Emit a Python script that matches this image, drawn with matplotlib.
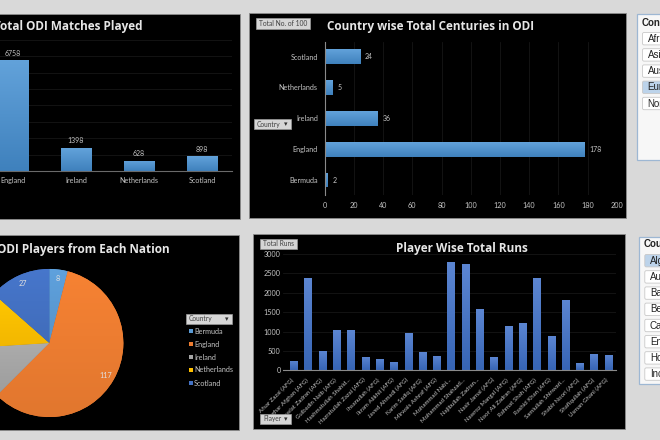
import matplotlib
matplotlib.use("Agg")
import matplotlib.pyplot as plt
from matplotlib.patches import Rectangle, FancyBboxPatch
from matplotlib.transforms import ScaledTranslation
import numpy as np

W, H = 660, 440

# top left
match_countries = ["England", "Ireland", "Netherlands", "Scotland"]
match_totals = [6758, 1398, 628, 898]
match_ticks = list(range(0, 9000, 1000))

# top right
century_countries = ["Bermuda", "England", "Ireland", "Netherlands", "Scotland"]
century_totals = [2, 178, 36, 5, 24]
century_ticks = list(range(0, 220, 20))

# bottom left
pie_countries = ["Bermuda", "England", "Ireland", "Netherlands", "Scotland"]
pie_players = [8, 117, 23, 25, 27]
pie_colors = ["#5B9BD5", "#ED7D31", "#A5A5A5", "#FFC000", "#4472C4"]

# bottom right
players = ["Afsar Zazai (AFG)", "Asghar Afghan (AFG)", "Dawlat Zadran (AFG)", "Gulbadin Naib (AFG)",
           "Hashmatullah Shahid...", "Hazratullah Zazai (AFG)", "Ihsanullah (AFG)", "Ikram Alikhil (AFG)",
           "Javed Ahmadi (AFG)", "Karim Sadiq (AFG)", "Mirwais Ashraf (AFG)", "Mohammad Nabi...",
           "Mohammad Shahzad...", "Najibullah Zadran...", "Nasir Jamal (AFG)", "Nawroz Mangal (AFG)",
           "Noor Ali Zadran (AFG)", "Rahmat Shah (AFG)", "Rashid Khan (AFG)", "Samiullah Shinwari...",
           "Shabir Noori (AFG)", "Shafiqullah (AFG)", "Usman Ghani (AFG)"]
player_runs = [240, 2370, 510, 1030, 1050, 350, 290, 225, 965, 465, 370, 2800,
               2740, 1590, 335, 1135, 1220, 2370, 895, 1815, 180, 420, 395]
run_ticks = list(range(0, 3500, 500))

# slicers
continents = ["Afri", "Asi", "Aus", "Eur", "Nor"]
slicer_countries = ["Alg", "Au", "Ba", "Be", "Ca", "En", "Ho", "Inc"]

TITLE_FONT = "Open Sans"
TICK = "#c4c4c4"
GRID = "#161616"
plt.rcParams["font.family"] = "Lato"


def axes_px(fig, left, top, right, bottom, **kw):
    return fig.add_axes([left / W, 1 - bottom / H, (right - left) / W, (bottom - top) / H], **kw)


def shade(ax, patches, top_color, bottom_color):
    # paint a vertical gradient inside each patch
    c0 = np.array(matplotlib.colors.to_rgb(top_color))
    c1 = np.array(matplotlib.colors.to_rgb(bottom_color))
    grad = np.linspace(c0, c1, 64)[:, None, :]
    for p in patches:
        box = p.get_window_extent().transformed(ax.transData.inverted())
        im = ax.imshow(grad, extent=[box.x0, box.x1, box.y0, box.y1], aspect="auto",
                       zorder=p.get_zorder() + 0.1, origin="upper" if box.y1 > box.y0 else "lower")
        im.set_clip_path(p)


def clean(ax):
    ax.set_facecolor("none")
    for s in ax.spines.values():
        s.set_visible(False)


def button(ov, left, top, right, bottom, label, arrow=False):
    ov.add_patch(Rectangle((left, top), right - left, bottom - top, fc="#d6d6d6", ec="#9a9a9a", lw=0.5))
    ov.text(left + 3, (top + bottom) / 2, label, fontsize=4.8, color="#404040", va="center", ha="left")
    if arrow:
        ov.text(right - 4, (top + bottom) / 2, "▾", fontsize=5, color="#303030", va="center", ha="right",
                family="DejaVu Sans")


fig = plt.figure(figsize=(W / 100, H / 100), dpi=100, facecolor="#d9d9d9")

# page layer: black panels and slicers
bg = axes_px(fig, 0, 0, W, H, zorder=0)
bg.set_xlim(0, W)
bg.set_ylim(H, 0)
bg.axis("off")
for left, top, right, bottom in [(-2, 14, 240, 219), (249, 13, 626, 218), (-2, 235, 238.5, 430), (253, 234, 625, 429)]:
    bg.add_patch(Rectangle((left, top), right - left, bottom - top, fc="black", ec="#8c8c8c", lw=0.6))

for left, top, bottom, first, head_y, head, names, picked in [
        (637, 14, 160, 32.5, 23, "Con", continents, "Eur"),
        (639.3, 237, 384, 254.5, 244, "Cou", slicer_countries, "Alg")]:
    bg.add_patch(Rectangle((left, top), 30, bottom - top, fc="#f7f7f7", ec="#9db7d3", lw=0.9))
    bg.text(left + 4.5, head_y, head, fontsize=7, fontweight="bold", color="#222222", va="center",
            family="Liberation Sans")
    for i, name in enumerate(names):
        y = first + i * 16.2
        bg.add_patch(FancyBboxPatch((left + 5.5, y), 30, 12.4, boxstyle="round,pad=0,rounding_size=1.5",
                                    fc="#bcd3ea" if name == picked else "white", ec="#c8c8c8", lw=0.6))
        bg.text(left + 10.5, y + 6.4, name, fontsize=7, color="#222222", va="center",
                family="Liberation Sans")

# total matches
ax = axes_px(fig, -2, 40, 232, 171, zorder=1)
clean(ax)
bars = ax.bar(range(len(match_countries)), match_totals, width=0.49, color="#5B9BD5")
ax.set_xlim(-15 / 63, 219 / 63)
ax.set_ylim(0, 8000)
ax.set_yticks(match_ticks)
ax.tick_params(axis="y", left=False, labelleft=False)
ax.grid(axis="y", color=GRID, lw=0.6)
ax.set_axisbelow(True)
ax.spines["bottom"].set_visible(True)
ax.spines["bottom"].set_color("#6a6a6a")
ax.set_xticks(range(len(match_countries)), match_countries, fontsize=5.2, color=TICK)
ax.tick_params(axis="x", length=0, pad=4.2)
for x, v in enumerate(match_totals):
    ax.text(x, v + 445, str(v), fontsize=5, color=TICK, ha="center", va="center")
shade(ax, bars, "#62A2DA", "#3F81BD")

# centuries
ax = axes_px(fig, 324.7, 41.7, 616.7, 195, zorder=1)
clean(ax)
bars = ax.barh(range(len(century_countries)), century_totals, height=0.47, color="#5B9BD5")
ax.set_xlim(0, 200)
ax.set_ylim(-0.48, 4.48)
ax.set_xticks(century_ticks)
ax.tick_params(axis="x", length=0, labelsize=5.2, labelcolor=TICK, pad=5)
ax.set_yticks(range(len(century_countries)), century_countries, fontsize=5.2, color=TICK)
ax.tick_params(axis="y", length=0, pad=5)
ax.grid(axis="x", color=GRID, lw=0.6)
ax.set_axisbelow(True)
ax.spines["left"].set_visible(True)
ax.spines["left"].set_color("#8a8a8a")
for y, v in enumerate(century_totals):
    ax.text(v + 3.5, y, str(v), fontsize=5, color=TICK, ha="left", va="center")
shade(ax, bars, "#62A2DA", "#3F81BD")

# players pie, slices run clockwise from 12 o'clock
ax = axes_px(fig, 49.3 - 74.5, 343 - 74.5, 49.3 + 74.5, 343 + 74.5, zorder=1)
wedges, _, pct = ax.pie(pie_players, colors=pie_colors, startangle=90, counterclock=False, radius=1,
                        autopct=lambda p: f"{p * sum(pie_players) / 100:.0f}", pctdistance=0.88,
                        textprops={"fontsize": 5.2, "color": "#e0e0e0"})
ax.set_xlim(-1.006, 1.006)
ax.set_ylim(-1.006, 1.006)
for w, c in zip(wedges, pie_colors):
    rgb = np.array(matplotlib.colors.to_rgb(c))
    shade(ax, [w], np.clip(rgb * 1.04, 0, 1), rgb * 0.95)
for t in pct:
    t.set_zorder(5)

# runs per player
ax = axes_px(fig, 283, 254, 616, 370.3, zorder=1)
clean(ax)
bars = ax.bar(range(len(players)), player_runs, width=0.49, color="#4472C4")
ax.set_xlim((283 - 293.7) / 14.3, (616 - 293.7) / 14.3)
ax.set_ylim(0, 3000)
ax.set_yticks(run_ticks)
ax.tick_params(axis="y", length=0, labelsize=5.2, labelcolor=TICK, pad=1.7)
ax.grid(axis="y", color=GRID, lw=0.6)
ax.set_axisbelow(True)
ax.spines["bottom"].set_visible(True)
ax.spines["bottom"].set_color("#8a8a8a")
ax.set_xticks(range(len(players)), players, fontsize=4.4, color=TICK, rotation=45, ha="right",
              rotation_mode="anchor")
ax.tick_params(axis="x", length=0, pad=5)
# nudge the slanted labels left so they end under their bars
nudge = ScaledTranslation(-2.5 / 100, 0, fig.dpi_scale_trans)
for lab in ax.get_xticklabels():
    lab.set_transform(lab.get_transform() + nudge)
shade(ax, bars, "#5C86D2", "#3765B5")

# titles, buttons, legend go on top
ov = axes_px(fig, 0, 0, W, H, zorder=3)
ov.set_xlim(0, W)
ov.set_ylim(H, 0)
ov.axis("off")
ov.text(142, 26.5, "Total ODI Matches Played", fontsize=8.5, fontweight="bold", color="#e6e6e6", va="center",
        ha="right", family=TITLE_FONT)
ov.text(327.3, 26.5, "Country wise Total Centuries in ODI", fontsize=8.5, fontweight="bold", color="#e6e6e6",
        va="center", family=TITLE_FONT)
ov.text(170, 249.5, "Total ODI Players from Each Nation", fontsize=8.5, fontweight="bold", color="#e6e6e6",
        va="center", ha="right", family=TITLE_FONT)
ov.text(462, 248.5, "Player Wise Total Runs", fontsize=8.5, fontweight="bold", color="#e6e6e6", va="center",
        ha="center", family=TITLE_FONT)

button(ov, 256, 18, 310, 29, "Total No. of 100")
button(ov, 254, 119, 291, 129, "Country", arrow=True)
button(ov, 186, 314, 232, 324, "Country", arrow=True)
button(ov, 260, 239, 297, 249, "Total Runs")
button(ov, 260, 414, 291, 424, "Player", arrow=True)

for i, (name, c) in enumerate(zip(pie_countries, pie_colors)):
    y = 331 + i * 13
    ov.add_patch(Rectangle((188.5, y - 2), 4, 4, fc=c, ec="none"))
    ov.text(194, y, name, fontsize=5.2, color=TICK, va="center")

fig.savefig("out.png", dpi=100, facecolor=fig.get_facecolor())
